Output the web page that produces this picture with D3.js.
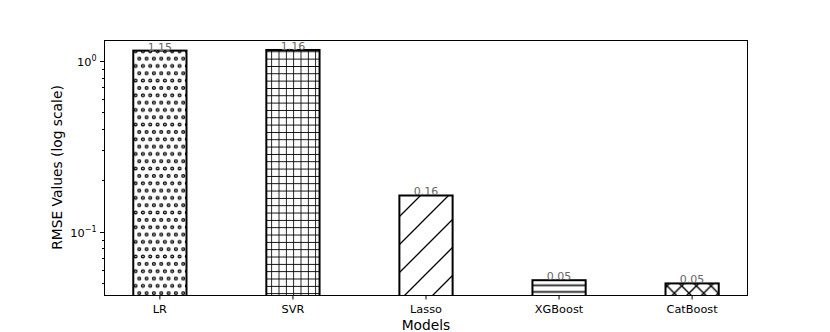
<!DOCTYPE html>
<html>
<head>
<meta charset="utf-8">
<script src="https://cdn.jsdelivr.net/npm/d3@7"></script>
<style>
  body { margin: 0; background: #fff; }
  svg { font-family: "DejaVu Sans", sans-serif; }
</style>
</head>
<body>
<svg id="chart" width="830" height="332"></svg>
<script>
const models = ["LR", "SVR", "Lasso", "XGBoost", "CatBoost"];
const rmse = [1.15, 1.16, 0.163, 0.052, 0.0498];
const hatches = ["dots", "grid", "diag", "horiz", "cross"];
const yTickValues = [0.1, 1];
const yTickLabels = [["10", "\u22121"], ["10", "0"]];

const svg = d3.select("#chart");
const area = { left: 104, right: 748, top: 40, bottom: 295 };

// hatch patterns
const defs = svg.append("defs");
function pattern(id, w, h) {
    return defs.append("pattern").attr("id", id)
        .attr("patternUnits", "userSpaceOnUse")
        .attr("width", w).attr("height", h);
}
let p = pattern("dots", 7.33, 14.66);
[[0, 0], [7.33, 0], [3.66, 7.33], [0, 14.66], [7.33, 14.66]].forEach(c => {
    p.append("circle").attr("cx", c[0]).attr("cy", c[1]).attr("r", 1.4)
        .attr("fill", "none").attr("stroke", "#000").attr("stroke-width", 1.3);
});
p = pattern("grid", 7.33, 7.33);
p.append("path").attr("d", "M0,0H7.33M0,0V7.33").attr("stroke", "#000").attr("stroke-width", 1.7);
p = pattern("diag", 28, 28);
p.append("path").attr("d", "M-2,30L30,-2M-2,2L2,-2M26,30L30,26").attr("stroke", "#000").attr("stroke-width", 1.3);
p = pattern("horiz", 10, 6.6);
p.append("path").attr("d", "M0,1.5H10").attr("stroke", "#222").attr("stroke-width", 1.8);
p = pattern("cross", 14.66, 14.66);
p.append("path").attr("d", "M0,0L14.66,14.66M0,14.66L14.66,0").attr("stroke", "#000").attr("stroke-width", 1.4);

const x = d3.scaleLinear().domain([-0.42, 4.42]).range([area.left, area.right]);
const y = d3.scaleLog().domain([0.0426, 1.327]).range([area.bottom, area.top]);
const barW = x(0.4) - x(0);

const bars = models.map((m, i) => ({ model: m, value: rmse[i], hatch: hatches[i], i: i }));

const plot = svg.append("g");
plot.append("clipPath").attr("id", "clip").append("rect")
    .attr("x", area.left).attr("y", area.top)
    .attr("width", area.right - area.left).attr("height", area.bottom - area.top);

const barG = plot.append("g").attr("clip-path", "url(#clip)");
barG.selectAll(".bar")
    .data(bars).enter().append("rect")
    .attr("x", d => x(d.i) - barW / 2)
    .attr("y", d => y(d.value))
    .attr("width", barW)
    .attr("height", d => area.bottom - y(d.value) + 2)
    .attr("fill", d => `url(#${d.hatch})`)
    .attr("stroke", "#000")
    .attr("stroke-width", 2);

// value labels
svg.selectAll(".val")
    .data(bars).enter().append("text")
    .attr("x", d => x(d.i))
    .attr("y", d => y(d.value))
    .attr("text-anchor", "middle")
    .attr("font-size", 11)
    .attr("fill", "#666")
    .text(d => d.value.toFixed(2));

// frame
svg.append("rect")
    .attr("x", area.left + 0.5).attr("y", area.top + 0.5)
    .attr("width", area.right - area.left - 1).attr("height", area.bottom - area.top)
    .attr("fill", "none").attr("stroke", "#000").attr("stroke-width", 1);

// x axis
const xAxis = svg.append("g").attr("transform", `translate(0,${area.bottom + 0.5})`);
models.forEach((m, i) => {
    xAxis.append("line").attr("x1", x(i)).attr("x2", x(i)).attr("y1", 0).attr("y2", 4)
        .attr("stroke", "#000");
    xAxis.append("text").attr("x", x(i)).attr("y", 17)
        .attr("text-anchor", "middle").attr("font-size", 11.3).text(m);
});

// y axis (log)
const yAxis = svg.append("g").attr("transform", `translate(${area.left + 0.5},0)`);
const minor = [];
[0.01, 0.1].forEach(base => { for (let k = 2; k <= 9; k++) minor.push(base * k); });
minor.filter(v => v >= y.domain()[0] && v <= y.domain()[1]).forEach(v => {
    yAxis.append("line").attr("x1", -2.5).attr("x2", 0)
        .attr("y1", Math.round(y(v)) + 0.5).attr("y2", Math.round(y(v)) + 0.5).attr("stroke", "#000");
});
yTickValues.forEach((v, i) => {
    const yy = Math.round(y(v)) + 0.5;
    yAxis.append("line").attr("x1", -4.5).attr("x2", 0).attr("y1", yy).attr("y2", yy).attr("stroke", "#000");
    const t = yAxis.append("text").attr("x", -8).attr("y", yy + 4)
        .attr("text-anchor", "end").attr("font-size", 11.3);
    t.append("tspan").text(yTickLabels[i][0]);
    t.append("tspan").attr("dy", -5).attr("font-size", 8).text(yTickLabels[i][1]);
});

// axis titles
svg.append("text")
    .attr("x", (area.left + area.right) / 2).attr("y", 330)
    .attr("text-anchor", "middle").attr("font-size", 13.8).text("Models");
svg.append("text")
    .attr("transform", `translate(62,${(area.top + area.bottom) / 2}) rotate(-90)`)
    .attr("text-anchor", "middle").attr("font-size", 13.8).text("RMSE Values (log scale)");
</script>
</body>
</html>
